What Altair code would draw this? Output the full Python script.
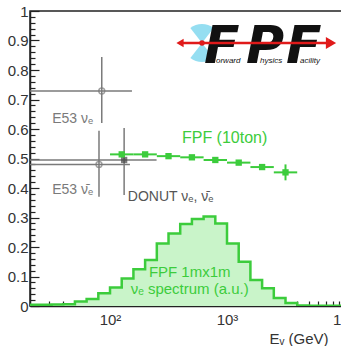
import altair as alt
import pandas as pd

# FPF 1m x 1m nu_e spectrum (arbitrary units), 0.1-decade bins in log10(E/GeV)
hist_log_lo = [1.3, 1.4, 1.5, 1.6, 1.7, 1.8, 1.9, 2.0, 2.1, 2.2, 2.3, 2.4, 2.5, 2.6,
               2.7, 2.8, 2.9, 3.0, 3.1, 3.2, 3.3, 3.4, 3.5, 3.6, 3.7, 3.8, 3.9]
hist_val = [0.004, 0.004, 0.005, 0.006, 0.015, 0.024, 0.043, 0.063, 0.093, 0.125,
            0.156, 0.212, 0.246, 0.278, 0.295, 0.303, 0.280, 0.212, 0.150, 0.088,
            0.060, 0.027, 0.010, 0.002, 0.001, 0.001, 0.001]
hist_bin_width = 0.1

# FPF (10 ton) projected ratio, 0.2-decade bins
fpf_log_center = [2.1, 2.3, 2.5, 2.7, 2.9, 3.1, 3.3, 3.5]
fpf_ratio = [0.514, 0.514, 0.508, 0.504, 0.495, 0.486, 0.471, 0.453]
fpf_err = [0.004, 0.004, 0.004, 0.005, 0.005, 0.006, 0.008, 0.027]
fpf_half_width = 0.1

# Existing measurements: E53 and DONUT
meas_name = ["E53 nu_e", "E53 nubar_e", "DONUT"]
meas_energy = [85.0, 80.5, 132.0]
meas_e_lo = [12.0, 12.0, 12.0]
meas_e_hi = [154.0, 148.0, 250.0]
meas_ratio = [0.729, 0.480, 0.495]
meas_lo = [0.620, 0.370, 0.376]
meas_hi = [0.844, 0.594, 0.603]

# Axis ticks
x_major = [100, 1000, 10000]
x_minor = [30, 40, 50, 60, 70, 80, 90, 200, 300, 400, 500, 600, 700, 800, 900,
           2000, 3000, 4000, 5000, 6000, 7000, 8000, 9000]
y_major = [0, 0.1, 0.2, 0.3, 0.4, 0.5, 0.6, 0.7, 0.8, 0.9, 1.0]
y_minor_step = 0.02

GREEN = "#3ccc3c"
GREEN_FILL = "#c9f4c9"
GREY = "#7a7a7a"
FONT = "Liberation Sans"

W, H = 314, 295

hist_edges = [10 ** v for v in hist_log_lo] + [10 ** (hist_log_lo[-1] + hist_bin_width)]
hist_df = pd.DataFrame({"E": hist_edges, "v": hist_val + [hist_val[-1]]})

fpf_df = pd.DataFrame({
    "E": [10 ** c for c in fpf_log_center],
    "E_lo": [10 ** (c - fpf_half_width) for c in fpf_log_center],
    "E_hi": [10 ** (c + fpf_half_width) for c in fpf_log_center],
    "r": fpf_ratio,
    "r_lo": [r - e for r, e in zip(fpf_ratio, fpf_err)],
    "r_hi": [r + e for r, e in zip(fpf_ratio, fpf_err)],
})

meas_df = pd.DataFrame({
    "name": meas_name, "E": meas_energy, "E_lo": meas_e_lo, "E_hi": meas_e_hi,
    "r": meas_ratio, "r_lo": meas_lo, "r_hi": meas_hi,
})

xscale = alt.Scale(type="log", domain=[10 ** 1.316, 10 ** 4], nice=False)
yscale = alt.Scale(domain=[0, 1], nice=False, zero=False)


def X(f, **kw):
    return alt.X(f, type="quantitative", scale=xscale, axis=kw.pop("axis", None), **kw)


def Y(f, **kw):
    return alt.Y(f, type="quantitative", scale=yscale, axis=kw.pop("axis", None), **kw)


# labelled axes (bottom / left)
x_axis_lab = alt.Axis(
    orient="bottom", values=x_major, ticks=False, domain=True, domainColor="#222",
    domainWidth=1.5, grid=False, labelFont=FONT, labelFontSize=15, labelColor="#333",
    labelPadding=6, labelFlush=False, labelOverlap=False, labelBound=False,
    labelExpr="datum.value == 100 ? '10²' : datum.value == 1000 ? '10³' : '10⁴'",
    title="Eᵥ (GeV)", titleFont=FONT, titleFontSize=15, titleFontWeight="normal",
    titleColor="#333", titleAlign="right", titleAnchor="end", titleX=W - 16,
    titleY=37, titleBaseline="alphabetic",
)
y_axis_lab = alt.Axis(
    orient="left", values=y_major, ticks=False, domain=True, domainColor="#222",
    domainWidth=1.5, grid=False, labelFont=FONT, labelFontSize=15, labelColor="#333",
    labelPadding=2, title=None, labelFlush=False, labelOverlap=False,
    labelExpr="datum.value == 0 ? '0' : datum.value == 1 ? '1' : format(datum.value, '.1f')",
)

# inward-pointing tick axes
x_axis_ticks = alt.Axis(
    orient="top", offset=-H, values=x_major + x_minor, labels=False, domain=False,
    grid=False, title=None, tickColor="#222", tickWidth=1.2,
    tickSize={"condition": {"test": "indexof([100, 1000, 10000], datum.value) >= 0",
                            "value": 9}, "value": 5},
)
y_ticks_vals = [round(i * y_minor_step, 2) for i in range(51)]
y_axis_ticks = alt.Axis(
    orient="right", offset=-W, values=y_ticks_vals, labels=False, domain=False,
    grid=False, title=None, tickColor="#222", tickWidth=1.2,
    tickSize={"condition": {"test": "abs(datum.value * 10 - round(datum.value * 10)) < 0.001",
                            "value": 9}, "value": 5},
)

hist_area = alt.Chart(hist_df).mark_area(
    interpolate="step-after", color=GREEN_FILL, clip=True
).encode(x=X("E", axis=x_axis_lab), y=Y("v", axis=y_axis_lab))

hist_line = alt.Chart(hist_df).mark_line(
    interpolate="step-after", color=GREEN, strokeWidth=2.5, clip=True
).encode(x=X("E", axis=x_axis_ticks), y=Y("v", axis=y_axis_ticks))

meas_h = alt.Chart(meas_df).mark_rule(color=GREY, strokeWidth=1.5, clip=True).encode(
    x=X("E_lo"), x2="E_hi", y=Y("r"))
meas_v = alt.Chart(meas_df).mark_rule(color=GREY, strokeWidth=1.5, clip=True).encode(
    x=X("E"), y=Y("r_lo"), y2="r_hi")
meas_e53 = alt.Chart(meas_df).transform_filter(
    "datum.name != 'DONUT'"
).mark_point(shape="circle", filled=False, color=GREY, size=35, strokeWidth=1.5).encode(
    x=X("E"), y=Y("r"))
meas_donut = alt.Chart(meas_df).transform_filter(
    "datum.name == 'DONUT'"
).mark_point(shape="square", filled=True, color="#444", size=40).encode(
    x=X("E"), y=Y("r"))

fpf_h = alt.Chart(fpf_df).mark_rule(color=GREEN, strokeWidth=2).encode(
    x=X("E_lo"), x2="E_hi", y=Y("r"))
fpf_v = alt.Chart(fpf_df).mark_rule(color=GREEN, strokeWidth=2).encode(
    x=X("E"), y=Y("r_lo"), y2="r_hi")
fpf_pts = alt.Chart(fpf_df).mark_point(
    shape="square", filled=True, color=GREEN, size=40, opacity=1).encode(
    x=X("E"), y=Y("r"))

# text annotations in data coordinates
lab_text = ["E53 νₑ", "E53 ν̄ₑ", "DONUT νₑ, ν̄ₑ", "FPF (10ton)", "FPF 1mx1m",
            "νₑ spectrum (a.u.)"]
lab_E = [32.0, 32.0, 142.0, 412.0, 480.0, 480.0]
lab_r = [0.634, 0.393, 0.369, 0.569, 0.116, 0.056]
lab_color = [GREY, GREY, "#555555", GREEN, GREEN, GREEN]
lab_align = ["left", "left", "left", "left", "center", "center"]
lab_size = [14, 14, 14, 16, 15, 15]
lab_df = pd.DataFrame({"t": lab_text, "E": lab_E, "r": lab_r, "c": lab_color,
                       "a": lab_align, "s": lab_size})

texts = []
for a in ["left", "center"]:
    texts.append(
        alt.Chart(lab_df).transform_filter(f"datum.a == '{a}'").mark_text(
            align=a, baseline="middle", font=FONT
        ).encode(x=X("E"), y=Y("r"), text="t:N",
                 color=alt.Color("c:N", scale=None),
                 size=alt.Size("s:Q", scale=None))
    )

# Forward Physics Facility logo (positions relative to the plot area)
logo_df = pd.DataFrame({"k": [0]})
LX, LY = 172, 32
LOGO_FONT = "DejaVu Sans"
logo = []
logo.append(alt.Chart(logo_df).mark_arc(
    theta=5.62, theta2=6.94, radius=19, color="#8fdcf0", opacity=0.95
).encode(x=alt.value(LX), y=alt.value(LY)))
logo.append(alt.Chart(logo_df).mark_arc(
    theta=2.48, theta2=3.80, radius=19, color="#8fdcf0", opacity=0.95
).encode(x=alt.value(LX), y=alt.value(LY)))
for ch, dx in [("F", 2), ("P", 44), ("F", 84)]:
    logo.append(alt.Chart(logo_df).mark_text(
        text=ch, font=LOGO_FONT, fontStyle="italic", fontWeight="bold", fontSize=52,
        align="left", baseline="alphabetic", color="#111"
    ).encode(x=alt.value(LX + dx), y=alt.value(LY + 20)))
for word, dx in [("orward", 14), ("hysics", 58), ("acility", 98)]:
    logo.append(alt.Chart(logo_df).mark_text(
        text=word, font=FONT, fontStyle="italic", fontSize=8,
        align="left", baseline="alphabetic", color="#111"
    ).encode(x=alt.value(LX + dx), y=alt.value(LY + 20)))
logo.append(alt.Chart(logo_df).mark_rule(color="#e01a1a", strokeWidth=2.5).encode(
    x=alt.value(LX - 20), x2=alt.value(LX + 126), y=alt.value(LY)))
logo.append(alt.Chart(logo_df).mark_point(
    shape="triangle-right", filled=True, color="#e01a1a", size=140, opacity=1
).encode(x=alt.value(LX + 129), y=alt.value(LY)))
logo.append(alt.Chart(logo_df).mark_point(
    shape="triangle-left", filled=True, color="#e01a1a", size=70, opacity=1
).encode(x=alt.value(LX - 22), y=alt.value(LY)))
logo.append(alt.Chart(logo_df).mark_point(
    shape="circle", filled=True, color="#e01a1a", size=30, opacity=1
).encode(x=alt.value(LX), y=alt.value(LY)))

chart = alt.layer(
    hist_area, hist_line, meas_h, meas_v, meas_e53, meas_donut,
    fpf_h, fpf_v, fpf_pts, *texts, *logo
).resolve_axis(x="independent", y="independent").properties(
    width=W, height=H,
    autosize=alt.AutoSizeParams(type="none"),
    padding={"left": 30, "top": 11, "right": -3, "bottom": 40},
    background="white",
).configure_view(stroke="#222", strokeWidth=1.5)

chart.save("out.html", embed_options={"renderer": "svg", "actions": False})
